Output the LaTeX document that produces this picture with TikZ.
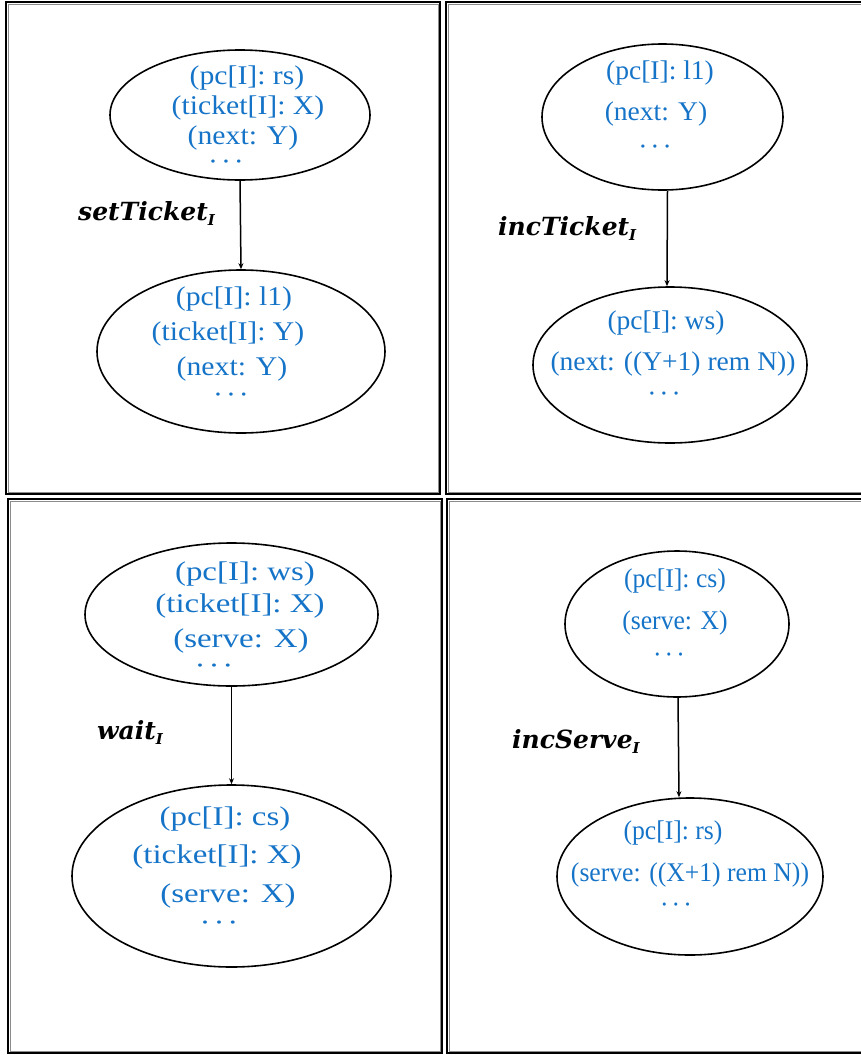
\documentclass[tikz,border=0pt]{standalone}
\usepackage{fontspec}
\setmainfont{Liberation Serif}
% value text, slightly widened differently in each panel
\newfontfamily\valsA[FakeStretch=1.10]{Liberation Serif}
\newfontfamily\valsB[FakeStretch=1.02]{Liberation Serif}
\newfontfamily\valsC[FakeStretch=1.22]{Liberation Serif}
\newfontfamily\valsD[FakeStretch=0.95]{Liberation Serif}
\newfontfamily\transfont{DejaVu Serif}
\usetikzlibrary{shapes.geometric,arrows.meta}
\definecolor{valblue}{RGB}{22,116,200}

\newcommand\dotsrow{\textperiodcentered\kern3pt\textperiodcentered\kern3pt\textperiodcentered}
\newcommand\trsub[1]{\raisebox{-5pt}{\fontsize{15}{15}\selectfont #1}}

\begin{document}
\begin{tikzpicture}[x=1pt,y=-1pt,
  frameout/.style={draw=black,line width=1.3pt},
  framein/.style={draw=black!45,line width=0.8pt},
  state/.style={ellipse,draw,line width=1.6pt,inner sep=0pt},
  val/.style={text=valblue,anchor=base,inner sep=0pt,font=#1\fontsize{27}{27}\selectfont},
  trans/.style={anchor=base west,inner sep=0pt,font=\transfont\bfseries\itshape\fontsize{25}{25}\selectfont},
  flow/.style={line width=1.5pt,-{Stealth[length=6pt,width=5pt]}}
]
\useasboundingbox (0,0) rectangle (860,1055);

% four framed panels, each with a dark outer rule and a grey inner rule
\draw[frameout] (6,2) rectangle (440,494);
\draw[framein] (8,4) rectangle (438,492);
\draw[frameout] (446,2) rectangle (864,494);
\draw[framein] (448,4) rectangle (862,492);
\draw[frameout] (8,499) rectangle (442,1053);
\draw[framein] (10,501) rectangle (440,1051);
\draw[frameout] (447,499) rectangle (864,1053);
\draw[framein] (449,501) rectangle (862,1051);

% setTicket
\node[state,minimum width=260,minimum height=130] (s1a) at (240,115) {};
\node[val=\valsA] (s1a-1) at (247,84) {(pc[I]: rs)};
\node[val=\valsA] (s1a-2) at (248,114) {(ticket[I]: X)};
\node[val=\valsA] (s1a-3) at (243,144) {(next: Y)};
\node[val=\valsA] (s1a-4) at (226,170) {\dotsrow};
\node[state,minimum width=288,minimum height=163] (s1b) at (241,351.5) {};
\node[val=\valsA] (s1b-1) at (234,305) {(pc[I]: l1)};
\node[val=\valsA] (s1b-2) at (228,340) {(ticket[I]: Y)};
\node[val=\valsA] (s1b-3) at (232,375) {(next: Y)};
\node[val=\valsA] (s1b-4) at (231,403) {\dotsrow};
\node[trans] (t1) at (78,220) {setTicket\trsub{I}};
\draw[flow] (s1a.south) -- (s1b.north);

% incTicket
\node[state,minimum width=241,minimum height=146] (s2a) at (662.5,117) {};
\node[val=\valsB] (s2a-1) at (660,79) {(pc[I]: l1)};
\node[val=\valsB] (s2a-2) at (656,120) {(next: Y)};
\node[val=\valsB] (s2a-3) at (655,155) {\dotsrow};
\node[state,minimum width=274,minimum height=156] (s2b) at (670,365) {};
\node[val=\valsB] (s2b-1) at (666,329) {(pc[I]: ws)};
\node[val=\valsB] (s2b-2) at (673,370) {(next: ((Y+1) rem N))};
\node[val=\valsB] (s2b-3) at (664,402) {\dotsrow};
\node[trans] (t2) at (498,235) {incTicket\trsub{I}};
\draw[flow] ([xshift=5pt]s2a.south) -- ([xshift=-3pt]s2b.north);

% wait
\node[state,minimum width=293,minimum height=143] (s3a) at (231.5,614.5) {};
\node[val=\valsC] (s3a-1) at (245,580) {(pc[I]: ws)};
\node[val=\valsC] (s3a-2) at (240,612) {(ticket[I]: X)};
\node[val=\valsC] (s3a-3) at (241,647) {(serve: X)};
\node[val=\valsC] (s3a-4) at (214,674) {\dotsrow};
\node[state,minimum width=319,minimum height=182] (s3b) at (231.5,876) {};
\node[val=\valsC] (s3b-1) at (225,825) {(pc[I]: cs)};
\node[val=\valsC] (s3b-2) at (217,863) {(ticket[I]: X)};
\node[val=\valsC] (s3b-3) at (228,902) {(serve: X)};
\node[val=\valsC] (s3b-4) at (219,931) {\dotsrow};
\node[trans] (t3) at (97,739) {wait\trsub{I}};
\draw[flow] (s3a.south) -- (s3b.north);

% incServe
\node[state,minimum width=224,minimum height=146] (s4a) at (677,624) {};
\node[val=\valsD] (s4a-1) at (675,587) {(pc[I]: cs)};
\node[val=\valsD] (s4a-2) at (675,629) {(serve: X)};
\node[val=\valsD] (s4a-3) at (669,663) {\dotsrow};
\node[state,minimum width=266,minimum height=157] (s4b) at (690,876.5) {};
\node[val=\valsD] (s4b-1) at (673,839) {(pc[I]: rs)};
\node[val=\valsD] (s4b-2) at (690,881) {(serve: ((X+1) rem N))};
\node[val=\valsD] (s4b-3) at (676,913) {\dotsrow};
\node[trans] (t4) at (512,748) {incServe\trsub{I}};
\draw[flow] ([xshift=1pt]s4a.south) -- ([xshift=-11pt]s4b.north);
\end{tikzpicture}
\end{document}
